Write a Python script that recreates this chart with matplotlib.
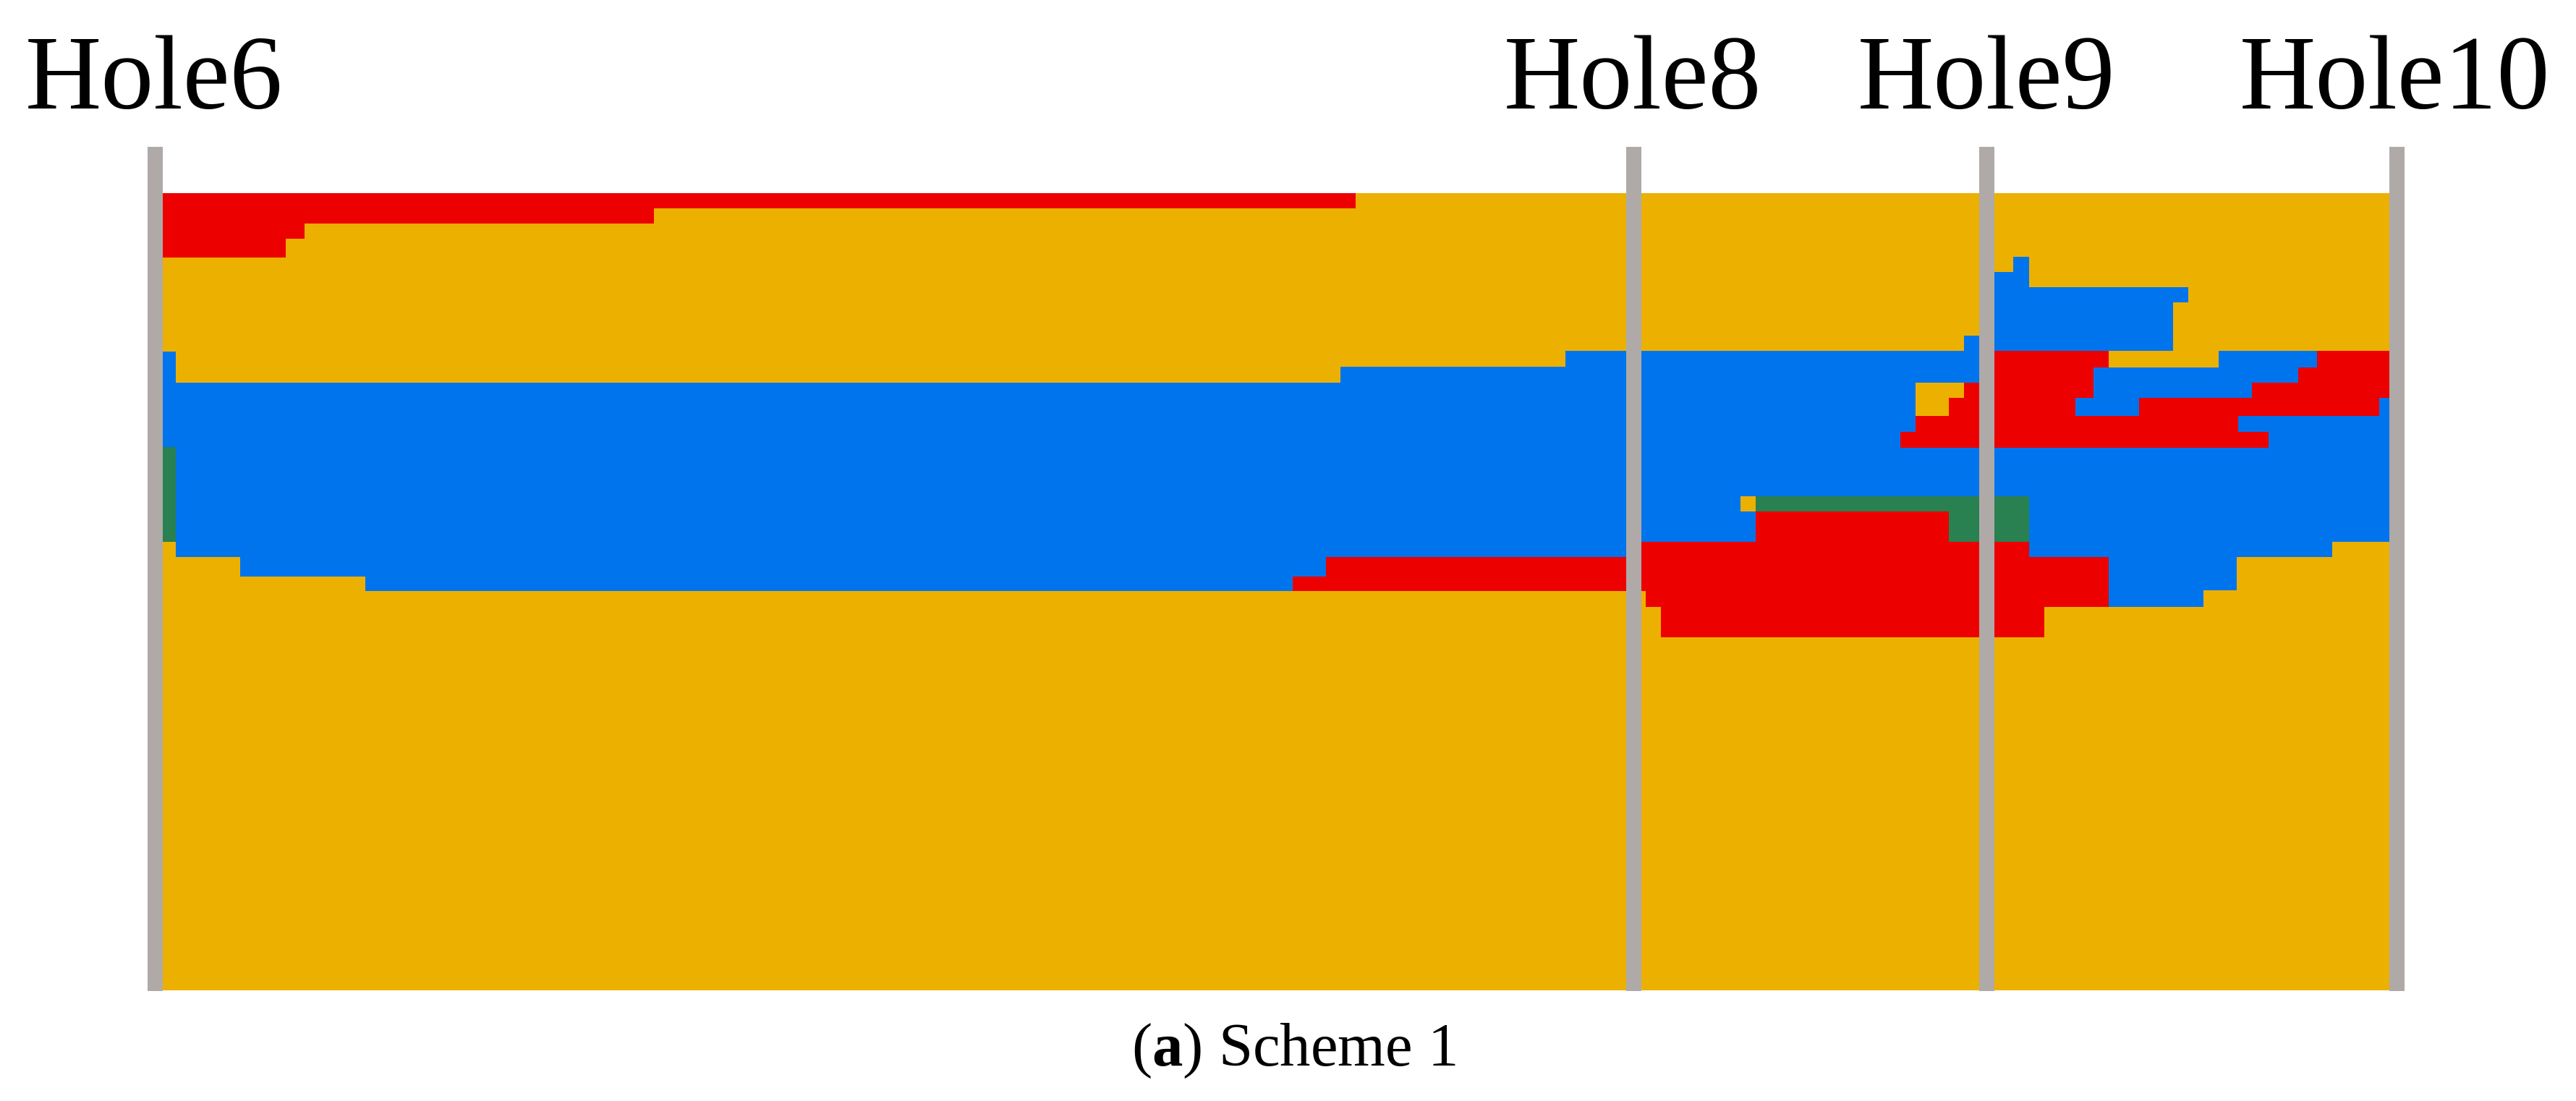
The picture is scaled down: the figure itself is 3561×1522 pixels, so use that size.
import matplotlib
matplotlib.use("Agg")
from matplotlib import pyplot as plt

plt.rcParams['font.family'] = ['Liberation Serif', 'DejaVu Serif']
plt.rcParams['mathtext.fontset'] = 'custom'
plt.rcParams['mathtext.rm'] = 'Liberation Serif'
plt.rcParams['mathtext.bf'] = 'Liberation Serif:bold'

# section size
section_width = 3078
section_depth = 1102

# boreholes
hole_names = ["Hole6", "Hole8", "Hole9", "Hole10"]
hole_x = [-10.5, 2033, 2521.5, 3088.5]
hole_label_x = [-190, 1854, 2343, 2871]

# colours
yellow = "#ECB000"
blue = "#0074EC"
red = "#EC0000"
green = "#298050"
grey = "#AFAAA8"

# main blue layer outline
blue_x = [0, 18, 18, 1628, 1628, 1939, 1939, 2490, 2490, 2532, 2532, 2558, 2558, 2580, 2580, 2800,
          2800, 2779, 2779, 2690, 2690, 2842, 2842, 3078, 3078, 2999, 2999, 2867, 2867, 2821, 2821,
          2071, 2071, 280, 280, 107, 107, 18, 18, 0]
blue_y = [219, 219, 262, 262, 240, 240, 218, 218, 197, 197, 109, 109, 88, 88, 130, 130,
          151, 151, 218, 218, 241, 241, 218, 218, 482, 482, 503, 503, 549, 549, 572,
          572, 550, 550, 530, 530, 503, 503, 482, 482]

# red patches
red_top_x = [0, 1649, 1649, 679, 679, 196, 196, 170, 170, 0]
red_top_y = [0, 0, 21, 21, 42, 42, 63, 63, 89, 89]

red_low_x = [1562, 1608, 1608, 2033, 2033, 2202, 2202, 2469, 2469, 2580, 2580, 2690, 2690, 2601,
             2601, 2071, 2071, 2050, 2050, 1562]
red_low_y = [530, 530, 503, 503, 482, 482, 440, 440, 482, 482, 503, 503, 572, 572,
             614, 614, 572, 572, 550, 550]

red_mid_x = [2490, 2521, 2521, 2690, 2690, 2669, 2669, 2644, 2644, 2732, 2732, 2888, 2888, 2952,
             2952, 2978, 2978, 3078, 3078, 3064, 3064, 2869, 2869, 2911, 2911, 2402, 2402, 2423,
             2423, 2469, 2469, 2490]
red_mid_y = [262, 262, 218, 218, 241, 241, 283, 283, 308, 308, 283, 283, 262, 262,
             241, 241, 218, 218, 283, 283, 308, 308, 330, 330, 352, 352, 330, 330,
             308, 308, 283, 283]

# green patches
green_left_x = [0, 18, 18, 0]
green_left_y = [351, 351, 482, 482]
green_mid_x = [2202, 2580, 2580, 2469, 2469, 2202]
green_mid_y = [419, 419, 482, 482, 440, 440]

# small yellow patches inside the blue layer
yellow_inset_x = [2423, 2490, 2490, 2469, 2469, 2423]
yellow_inset_y = [262, 262, 283, 283, 308, 308]
yellow_dot_x = [2181, 2202, 2202, 2181]
yellow_dot_y = [419, 419, 440, 440]

fig = plt.figure(figsize=(35.61, 15.22), dpi=100)
ax = fig.add_axes([225 / 3561, 1 - 1369 / 1522, section_width / 3561, section_depth / 1522])
ax.set_xlim(0, section_width)
ax.set_ylim(section_depth, 0)
ax.axis("off")

ax.fill([0, section_width, section_width, 0], [0, 0, section_depth, section_depth], color=yellow, lw=0)
ax.fill(blue_x, blue_y, color=blue, lw=0)
ax.fill(red_top_x, red_top_y, color=red, lw=0)
ax.fill(red_low_x, red_low_y, color=red, lw=0)
ax.fill(red_mid_x, red_mid_y, color=red, lw=0)
ax.fill(green_left_x, green_left_y, color=green, lw=0)
ax.fill(green_mid_x, green_mid_y, color=green, lw=0)
ax.fill(yellow_inset_x, yellow_inset_y, color=yellow, lw=0)
ax.fill(yellow_dot_x, yellow_dot_y, color=yellow, lw=0)

for name, x, label_x in zip(hole_names, hole_x, hole_label_x):
    ax.bar(x, 1167, width=21, bottom=-64, color=grey, lw=0, clip_on=False)
    ax.text(label_x, -117, name, fontsize=105, va="baseline", ha="left", color="black", clip_on=False)

ax.text(1563, 1206, r"$\mathrm{(}\mathbf{a}\mathrm{)}$ Scheme 1", fontsize=61,
        va="baseline", ha="center", color="black", clip_on=False)

fig.savefig("out.png", dpi=100, facecolor="white")
